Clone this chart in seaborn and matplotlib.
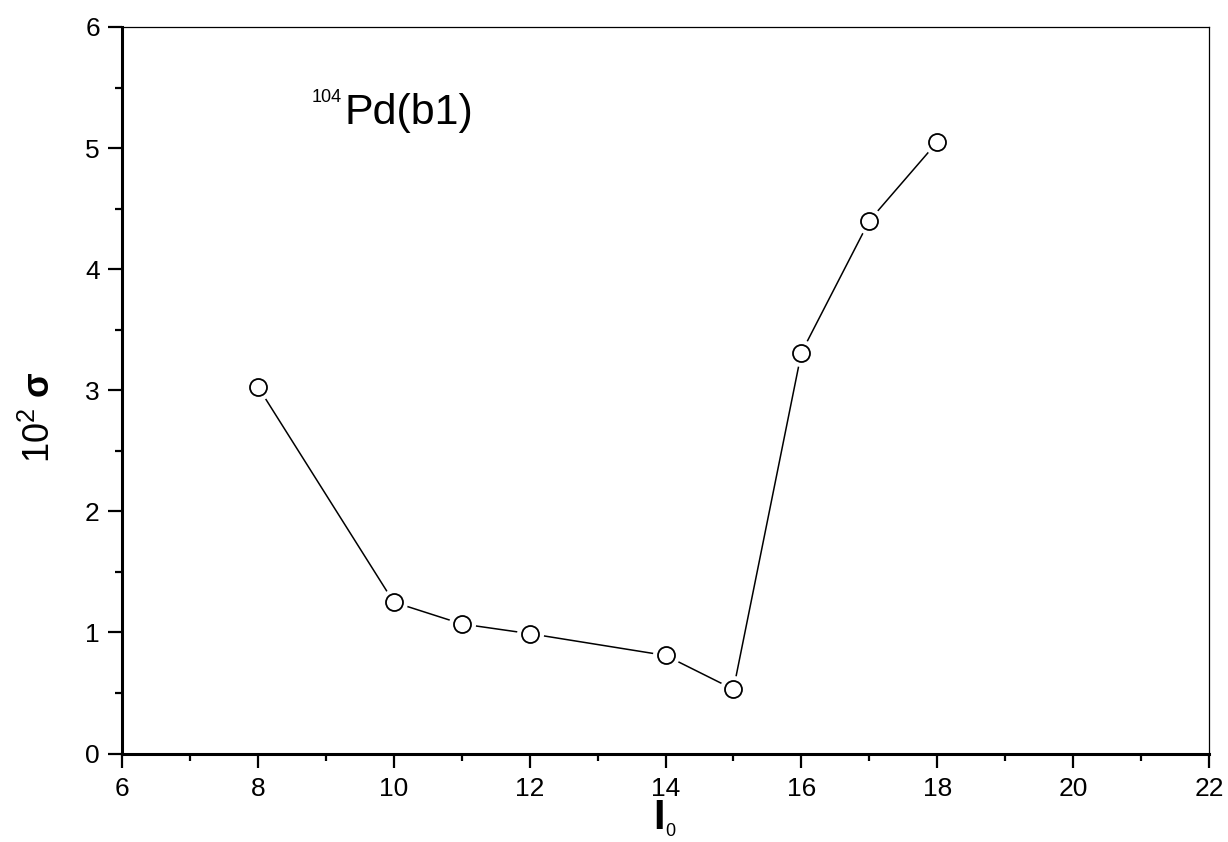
import matplotlib
matplotlib.use("Agg")
import matplotlib.pyplot as plt
import seaborn as sns
import pandas as pd
from matplotlib.ticker import MultipleLocator

# ---- data ----
I0 = [8, 10, 11, 12, 14, 15, 16, 17, 18]
sigma = [3.03, 1.25, 1.07, 0.99, 0.81, 0.53, 3.31, 4.40, 5.05]
x_ticks = [6, 8, 10, 12, 14, 16, 18, 20, 22]
y_ticks = [0, 1, 2, 3, 4, 5, 6]
label_text = "Pd(b1)"
label_sup = "104"

df = pd.DataFrame({"I0": I0, "sigma": sigma})

sns.set_theme(style="ticks")
plt.rcParams["font.family"] = ["Liberation Sans", "DejaVu Sans"]
plt.rcParams["text.color"] = "black"
plt.rcParams["axes.labelcolor"] = "black"
plt.rcParams["mathtext.fontset"] = "custom"
plt.rcParams["mathtext.rm"] = "Liberation Sans"
plt.rcParams["mathtext.bf"] = "Liberation Sans:bold"
plt.rcParams["mathtext.it"] = "Liberation Sans:italic"

fig = plt.figure(figsize=(12.28, 8.42), dpi=100)
ax = fig.add_axes([122 / 1228, 1 - 753.5 / 842, 1087 / 1228, 726.5 / 842])

# line
sns.lineplot(data=df, x="I0", y="sigma", color="black", linewidth=1.1, ax=ax,
             zorder=2, legend=False)
# white halo to create gaps between line and markers
sns.scatterplot(data=df, x="I0", y="sigma", s=380, color="white", linewidth=0,
                ax=ax, zorder=3, legend=False)
# open circle markers
sns.scatterplot(data=df, x="I0", y="sigma", s=150, facecolor="white",
                edgecolor="black", linewidth=1.3, ax=ax, zorder=4, legend=False)

ax.set_xlim(6, 22)
ax.set_ylim(0, 6)
ax.set_xticks(x_ticks)
ax.set_yticks(y_ticks)
ax.xaxis.set_minor_locator(MultipleLocator(1))
ax.yaxis.set_minor_locator(MultipleLocator(0.5))

ax.tick_params(axis="both", which="major", direction="out", length=10,
               width=1.6, labelsize=19, color="black", labelcolor="black")
ax.tick_params(axis="both", which="minor", direction="out", length=5,
               width=1.6, color="black")
ax.tick_params(axis="x", which="major", pad=7)
ax.tick_params(axis="y", which="major", pad=6)

for side in ["left", "bottom"]:
    ax.spines[side].set_linewidth(2.2)
    ax.spines[side].set_color("black")
for side in ["top", "right"]:
    ax.spines[side].set_visible(True)
    ax.spines[side].set_linewidth(0.9)
    ax.spines[side].set_color("black")

# axis labels
ax.set_xlabel("I", fontsize=30, fontweight="bold", color="black")
ax.xaxis.set_label_coords((659 - 122) / 1087, (753.5 - 829) / 726.5)
ax.xaxis.label.set_va("baseline")
fig.text(665 / 1228, 1 - 836 / 842, "0", fontsize=13, ha="left",
         va="baseline", color="black")

ax.set_ylabel(r"$\mathregular{10^{2}}\ \mathbf{σ}$", fontsize=26, color="black")
ax.yaxis.set_label_coords((40 - 122) / 1087, (753.5 - 417) / 726.5)
ax.yaxis.label.set_va("center")

# annotation
fig.text(312 / 1228, 1 - 101.5 / 842, label_sup, fontsize=13, ha="left",
         va="baseline", color="black")
fig.text(345 / 1228, 1 - 124 / 842, label_text, fontsize=31, ha="left",
         va="baseline", color="black")

fig.savefig("out.png", dpi=100, facecolor="white")
